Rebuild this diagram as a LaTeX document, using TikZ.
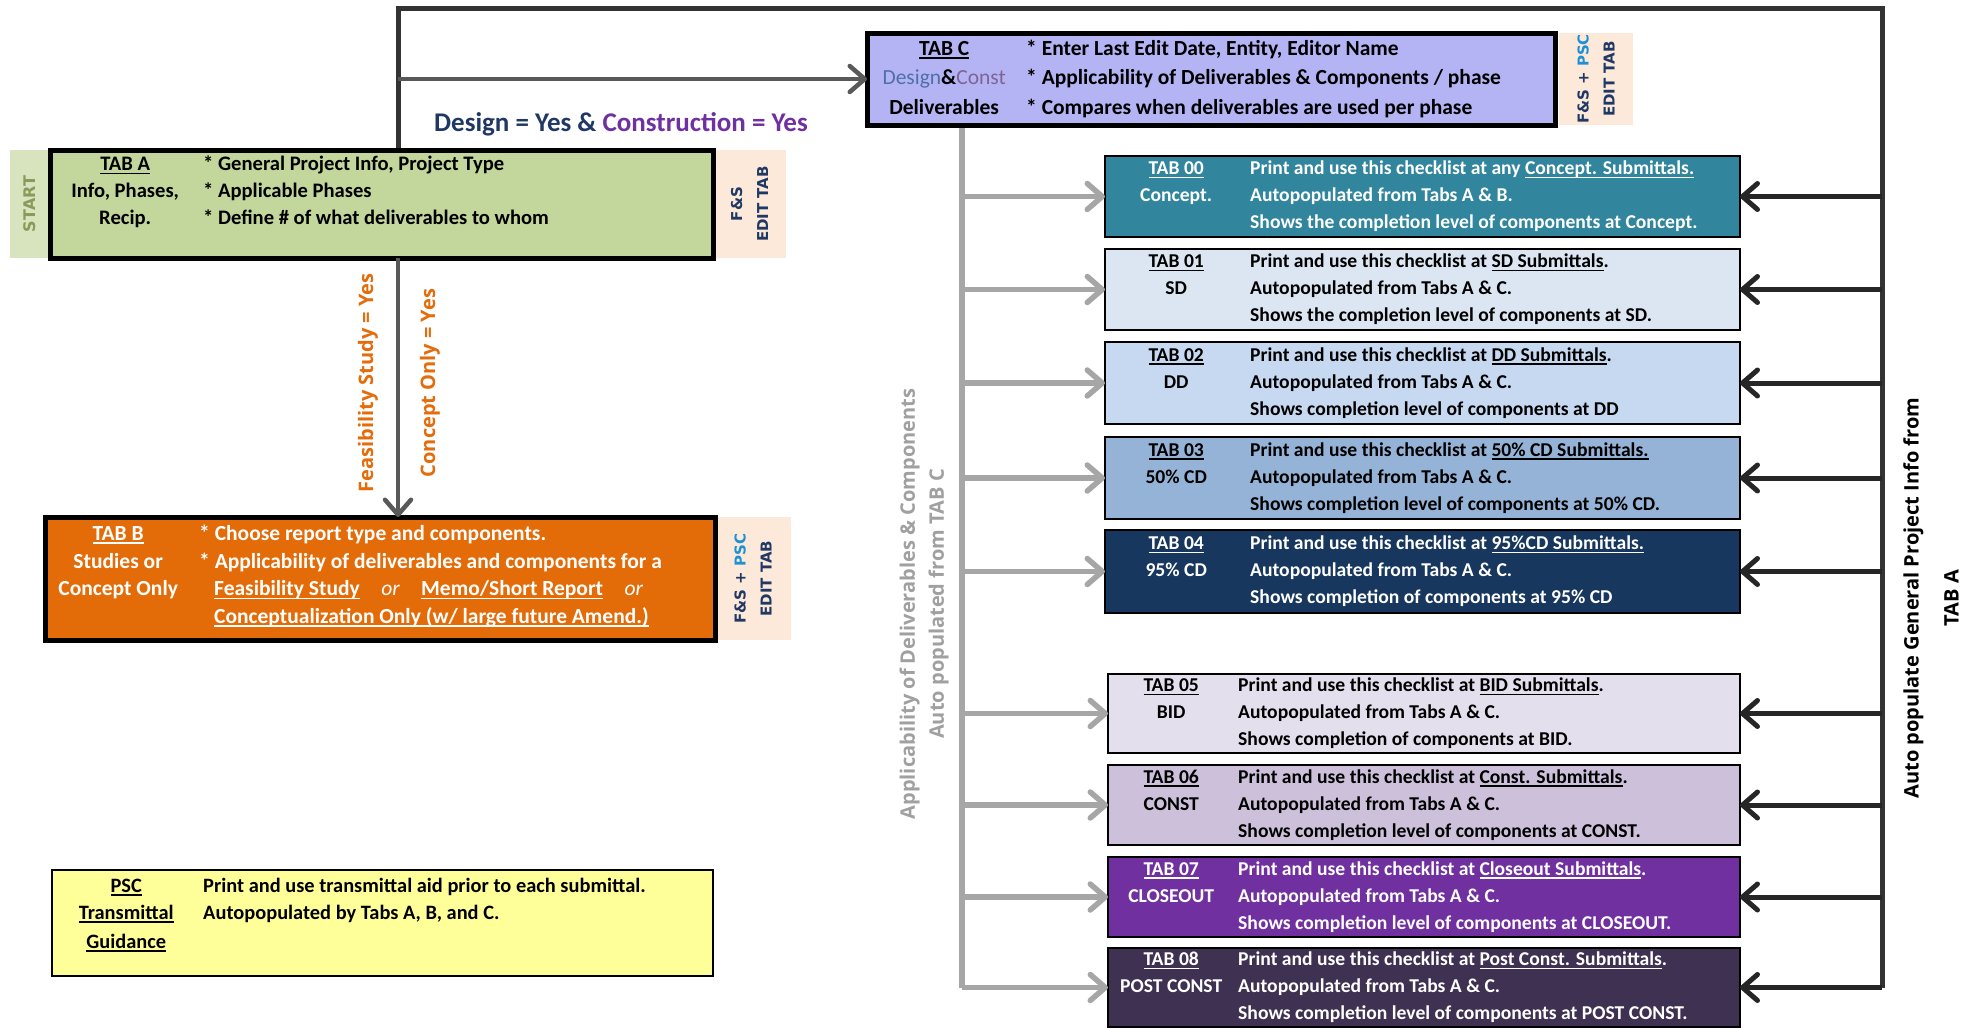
\documentclass[tikz,border=0pt]{standalone}
\usepackage{fontspec}
\setmainfont{Carlito}
\newfontfamily\labelfont{Open Sans}
\newfontfamily\tabfont{DejaVu Sans}
\usepackage{array}
\usetikzlibrary{arrows.meta}
\newcolumntype{C}[1]{>{\centering\arraybackslash}p{#1}}
\newcommand{\tabul}[1]{\leavevmode\sbox0{#1}\rlap{\rule[-3.2pt]{\wd0}{1.4pt}}\usebox0}
\definecolor{startgreen}{HTML}{D7E4BD}
\definecolor{starttext}{HTML}{8A9A5B}
\definecolor{tabagreen}{HTML}{C3D69B}
\definecolor{editpeach}{HTML}{FDE9D9}
\definecolor{editblue}{HTML}{1F3864}
\definecolor{pscblue}{HTML}{1E90D6}
\definecolor{tabclav}{HTML}{B4B4F4}
\definecolor{designblue}{HTML}{4F6FA8}
\definecolor{constviolet}{HTML}{7E6496}
\definecolor{taborange}{HTML}{E36C09}
\definecolor{pscyellow}{HTML}{FFFF99}
\definecolor{navytext}{HTML}{1F3864}
\definecolor{constrpurple}{HTML}{7030A0}
\definecolor{labelorange}{HTML}{E46C0A}
\definecolor{labelgray}{HTML}{A0A0A0}
\definecolor{tabzero}{HTML}{31859C}
\definecolor{tabone}{HTML}{DCE6F2}
\definecolor{tabtwo}{HTML}{C6D9F1}
\definecolor{tabthree}{HTML}{95B3D7}
\definecolor{tabfour}{HTML}{17375E}
\definecolor{tabfive}{HTML}{E4DFEC}
\definecolor{tabsix}{HTML}{CCC0DA}
\definecolor{tabseven}{HTML}{7030A0}
\definecolor{tabeight}{HTML}{3F3151}
\definecolor{arrowgray}{HTML}{A6A6A6}
\definecolor{arrowblack}{HTML}{262626}
\definecolor{arrowdark}{HTML}{595959}
\definecolor{trunkdark}{HTML}{333333}

\begin{document}
\begin{tikzpicture}[x=1pt,y=-1pt,line join=miter,
		box/.style={draw=black,anchor=north west,inner sep=0pt,outer sep=0pt},
		boxtext/.style={anchor=west,inner sep=0pt,font=\fontsize{#1}{27}\selectfont\bfseries},
		boxtext/.default=19.6,
		edit/.style={fill=editpeach,rotate=90,inner sep=0pt,align=center,text=editblue,font=\tabfont\fontsize{15}{26}\selectfont\bfseries},
		sidelabel/.style={rotate=90,align=center,inner sep=0pt,font=\labelfont\fontsize{20}{29}\selectfont\bfseries},
		grayline/.style={draw=arrowgray,line width=5.5pt},
		grayarrow/.style={draw=arrowgray,line width=5.5pt,-{Straight Barb[length=15pt,width=26pt,round]}},
		blackarrow/.style={draw=arrowblack,line width=5pt,-{Straight Barb[length=15pt,width=26pt,round]}},
		darkarrow/.style={draw=arrowdark,line width=4.5pt,-{Straight Barb[length=15pt,width=26pt,round]}}]
	\useasboundingbox (0,0) rectangle (1974,1028);

	\node[edit,fill=startgreen,text=starttext,font=\tabfont\fontsize{16}{20}\selectfont\bfseries,minimum width=108pt,minimum height=40pt] (start) at (30,204) {START};
	\node[edit,minimum width=108pt,minimum height=73pt] (tabaedit) at (749.5,204) {F\&S\\EDIT TAB};
	\node[edit,minimum width=123pt,minimum height=76pt] (tabbedit) at (753,578.5) {F\&S + {\color{pscblue}PSC}\\EDIT TAB};
	\node[edit,minimum width=92pt,minimum height=74pt] (tabcedit) at (1596,79) {F\&S + {\color{pscblue}PSC}\\EDIT TAB};

	\node[box,fill=tabagreen,line width=5pt,minimum width=663pt,minimum height=108pt] (taba) at (50,150) {};
	\node[boxtext=20.6] (tabatext) at ([yshift=-2pt]taba.west) {\begin{tabular}{@{}C{150pt}@{\hspace{3pt}}l@{}}
		\tabul{TAB A} & * General Project Info, Project Type\\
		Info, Phases, & * Applicable Phases\\
		Recip. & * Define \# of what deliverables to whom\\
		&
	\end{tabular}};

	\node[box,fill=taborange,line width=5pt,minimum width=670pt,minimum height=123pt] (tabb) at (45,517) {};
	\node[boxtext,font=\fontsize{21.5}{27.7}\selectfont\bfseries,text=white] (tabbtext) at ([yshift=2pt]tabb.west) {\begin{tabular}{@{}C{146pt}@{\hspace{8pt}}l@{}}
		\tabul{TAB B} & * Choose report type and components.\\
		Studies or & * Applicability of deliverables and components for a\\
		Concept Only & \hspace*{15pt}\tabul{Feasibility Study}\quad{\mdseries\itshape or}\quad\tabul{Memo/Short Report}\quad{\mdseries\itshape or}\\
		& \hspace*{15pt}\tabul{Conceptualization Only (w/ large future Amend.)}
	\end{tabular}};

	\node[box,fill=tabclav,line width=5pt,minimum width=688pt,minimum height=92pt] (tabc) at (867,33) {};
	\node[boxtext,font=\fontsize{21.5}{29.5}\selectfont\bfseries] (tabctext) at (tabc.west) {\begin{tabular}{@{}C{154pt}@{\hspace{5pt}}l@{}}
		\tabul{TAB C} & * Enter Last Edit Date, Entity, Editor Name\\
		\leavevmode{\mdseries\color{designblue}Design}\&{\mdseries\color{constviolet}Const} & * Applicability of Deliverables \& Components / phase\\
		Deliverables & * Compares when deliverables are used per phase
	\end{tabular}};

	\node[box,fill=pscyellow,line width=1.5pt,minimum width=661pt,minimum height=106pt] (psc) at (52,870) {};
	\node[boxtext=20.4] (psctext) at ([yshift=8pt]psc.west) {\begin{tabular}{@{}C{148pt}@{\hspace{3pt}}l@{}}
		\tabul{PSC} & Print and use transmittal aid prior to each submittal.\\
		\tabul{Transmittal} & Autopopulated by Tabs A, B, and C.\\[2pt]
		\tabul{Guidance} &
	\end{tabular}};

	\node[box,fill=tabzero,line width=2pt,minimum width=635pt,minimum height=81pt] (t00) at (1105,156) {};
	\node[boxtext,text=white] (t00text) at (t00.west) {\begin{tabular}{@{}C{142pt}@{\hspace{3pt}}l@{}}
		\tabul{TAB 00} & Print and use this checklist at any \tabul{Concept. Submittals.}\\
		Concept. & Autopopulated from Tabs A \& B.\\
		& Shows the completion level of components at Concept.
	\end{tabular}};

	\node[box,fill=tabone,line width=2pt,minimum width=635pt,minimum height=81pt] (t01) at (1105,249) {};
	\node[boxtext] (t01text) at (t01.west) {\begin{tabular}{@{}C{142pt}@{\hspace{3pt}}l@{}}
		\tabul{TAB 01} & Print and use this checklist at \tabul{SD Submittals}.\\
		SD & Autopopulated from Tabs A \& C.\\
		& Shows the completion level of components at SD.
	\end{tabular}};

	\node[box,fill=tabtwo,line width=2pt,minimum width=635pt,minimum height=82pt] (t02) at (1105,342) {};
	\node[boxtext] (t02text) at (t02.west) {\begin{tabular}{@{}C{142pt}@{\hspace{3pt}}l@{}}
		\tabul{TAB 02} & Print and use this checklist at \tabul{DD Submittals}.\\
		DD & Autopopulated from Tabs A \& C.\\
		& Shows completion level of components at DD
	\end{tabular}};

	\node[box,fill=tabthree,line width=2pt,minimum width=635pt,minimum height=82pt] (t03) at (1105,437) {};
	\node[boxtext] (t03text) at (t03.west) {\begin{tabular}{@{}C{142pt}@{\hspace{3pt}}l@{}}
		\tabul{TAB 03} & Print and use this checklist at \tabul{50\% CD Submittals.}\\
		50\% CD & Autopopulated from Tabs A \& C.\\
		& Shows completion level of components at 50\% CD.
	\end{tabular}};

	\node[box,fill=tabfour,line width=2pt,minimum width=635pt,minimum height=83pt] (t04) at (1105,530) {};
	\node[boxtext,text=white] (t04text) at (t04.west) {\begin{tabular}{@{}C{142pt}@{\hspace{3pt}}l@{}}
		\tabul{TAB 04} & Print and use this checklist at \tabul{95\%CD Submittals.}\\
		95\% CD & Autopopulated from Tabs A \& C.\\
		& Shows completion of components at 95\% CD
	\end{tabular}};

	\node[box,fill=tabfive,line width=2pt,minimum width=632pt,minimum height=79pt] (t05) at (1108,674) {};
	\node[boxtext] (t05text) at (t05.west) {\begin{tabular}{@{}C{126pt}@{\hspace{4pt}}l@{}}
		\tabul{TAB 05} & Print and use this checklist at \tabul{BID Submittals}.\\
		BID & Autopopulated from Tabs A \& C.\\
		& Shows completion of components at BID.
	\end{tabular}};

	\node[box,fill=tabsix,line width=2pt,minimum width=632pt,minimum height=80pt] (t06) at (1108,765) {};
	\node[boxtext] (t06text) at (t06.west) {\begin{tabular}{@{}C{126pt}@{\hspace{4pt}}l@{}}
		\tabul{TAB 06} & Print and use this checklist at \tabul{Const. Submittals}.\\
		CONST & Autopopulated from Tabs A \& C.\\
		& Shows completion level of components at CONST.
	\end{tabular}};

	\node[box,fill=tabseven,line width=2pt,minimum width=632pt,minimum height=80pt] (t07) at (1108,857) {};
	\node[boxtext,text=white] (t07text) at (t07.west) {\begin{tabular}{@{}C{126pt}@{\hspace{4pt}}l@{}}
		\tabul{TAB 07} & Print and use this checklist at \tabul{Closeout Submittals}.\\
		CLOSEOUT & Autopopulated from Tabs A \& C.\\
		& Shows completion level of components at CLOSEOUT.
	\end{tabular}};

	\node[box,fill=tabeight,line width=2pt,minimum width=632pt,minimum height=79pt] (t08) at (1108,948) {};
	\node[boxtext,text=white] (t08text) at (t08.west) {\begin{tabular}{@{}C{126pt}@{\hspace{4pt}}l@{}}
		\tabul{TAB 08} & Print and use this checklist at \tabul{Post Const. Submittals}.\\
		POST CONST & Autopopulated from Tabs A \& C.\\
		& Shows completion level of components at POST CONST.
	\end{tabular}};

	\node[font=\fontsize{27}{30}\selectfont\bfseries,text=navytext] (designlbl) at (621,124) {Design = Yes \& {\color{constrpurple}Construction = Yes}};
	\node[sidelabel,text=labelorange] (feaslbl) at (368,383) {Feasibility Study = Yes};
	\node[sidelabel,text=labelorange] (conclbl) at (430,383) {Concept Only = Yes};
	\node[sidelabel,text=labelgray] (applbl) at (924,604) {Applicability of Deliverables \& Components\\Auto populated from TAB C};
	\node[sidelabel,font=\labelfont\fontsize{20}{40}\selectfont\bfseries] (autolbl) at (1931,598) {Auto populate General Project Info from\\TAB A};

	\coordinate (atrunk) at (398,8);
	\coordinate (rtrunk) at (1882,8);
	\coordinate (gtrunk) at (962,0);
	\draw[draw=trunkdark,line width=5pt,shorten <=2.5pt] (atrunk |- taba.north) -- (atrunk) -- (rtrunk) -- (rtrunk |- t08.east);
	\draw[darkarrow] (atrunk |- tabc.west) -- (tabc.west);
	\draw[darkarrow] (atrunk |- taba.south) -- (atrunk |- tabb.north);
	\draw[grayline,shorten <=2.5pt] (gtrunk |- tabc.south) -- (gtrunk |- t08.west);

	\draw[grayarrow] (gtrunk |- t00.west) -- (t00.west);
	\draw[grayarrow] (gtrunk |- t01.west) -- (t01.west);
	\draw[grayarrow] (gtrunk |- t02.west) -- (t02.west);
	\draw[grayarrow] (gtrunk |- t03.west) -- (t03.west);
	\draw[grayarrow] (gtrunk |- t04.west) -- (t04.west);
	\draw[grayarrow] (gtrunk |- t05.west) -- (t05.west);
	\draw[grayarrow] (gtrunk |- t06.west) -- (t06.west);
	\draw[grayarrow] (gtrunk |- t07.west) -- (t07.west);
	\draw[grayarrow] (gtrunk |- t08.west) -- (t08.west);

	\draw[blackarrow] (rtrunk |- t00.east) -- (t00.east);
	\draw[blackarrow] (rtrunk |- t01.east) -- (t01.east);
	\draw[blackarrow] (rtrunk |- t02.east) -- (t02.east);
	\draw[blackarrow] (rtrunk |- t03.east) -- (t03.east);
	\draw[blackarrow] (rtrunk |- t04.east) -- (t04.east);
	\draw[blackarrow] (rtrunk |- t05.east) -- (t05.east);
	\draw[blackarrow] (rtrunk |- t06.east) -- (t06.east);
	\draw[blackarrow] (rtrunk |- t07.east) -- (t07.east);
	\draw[blackarrow] (rtrunk |- t08.east) -- (t08.east);
\end{tikzpicture}
\end{document}
